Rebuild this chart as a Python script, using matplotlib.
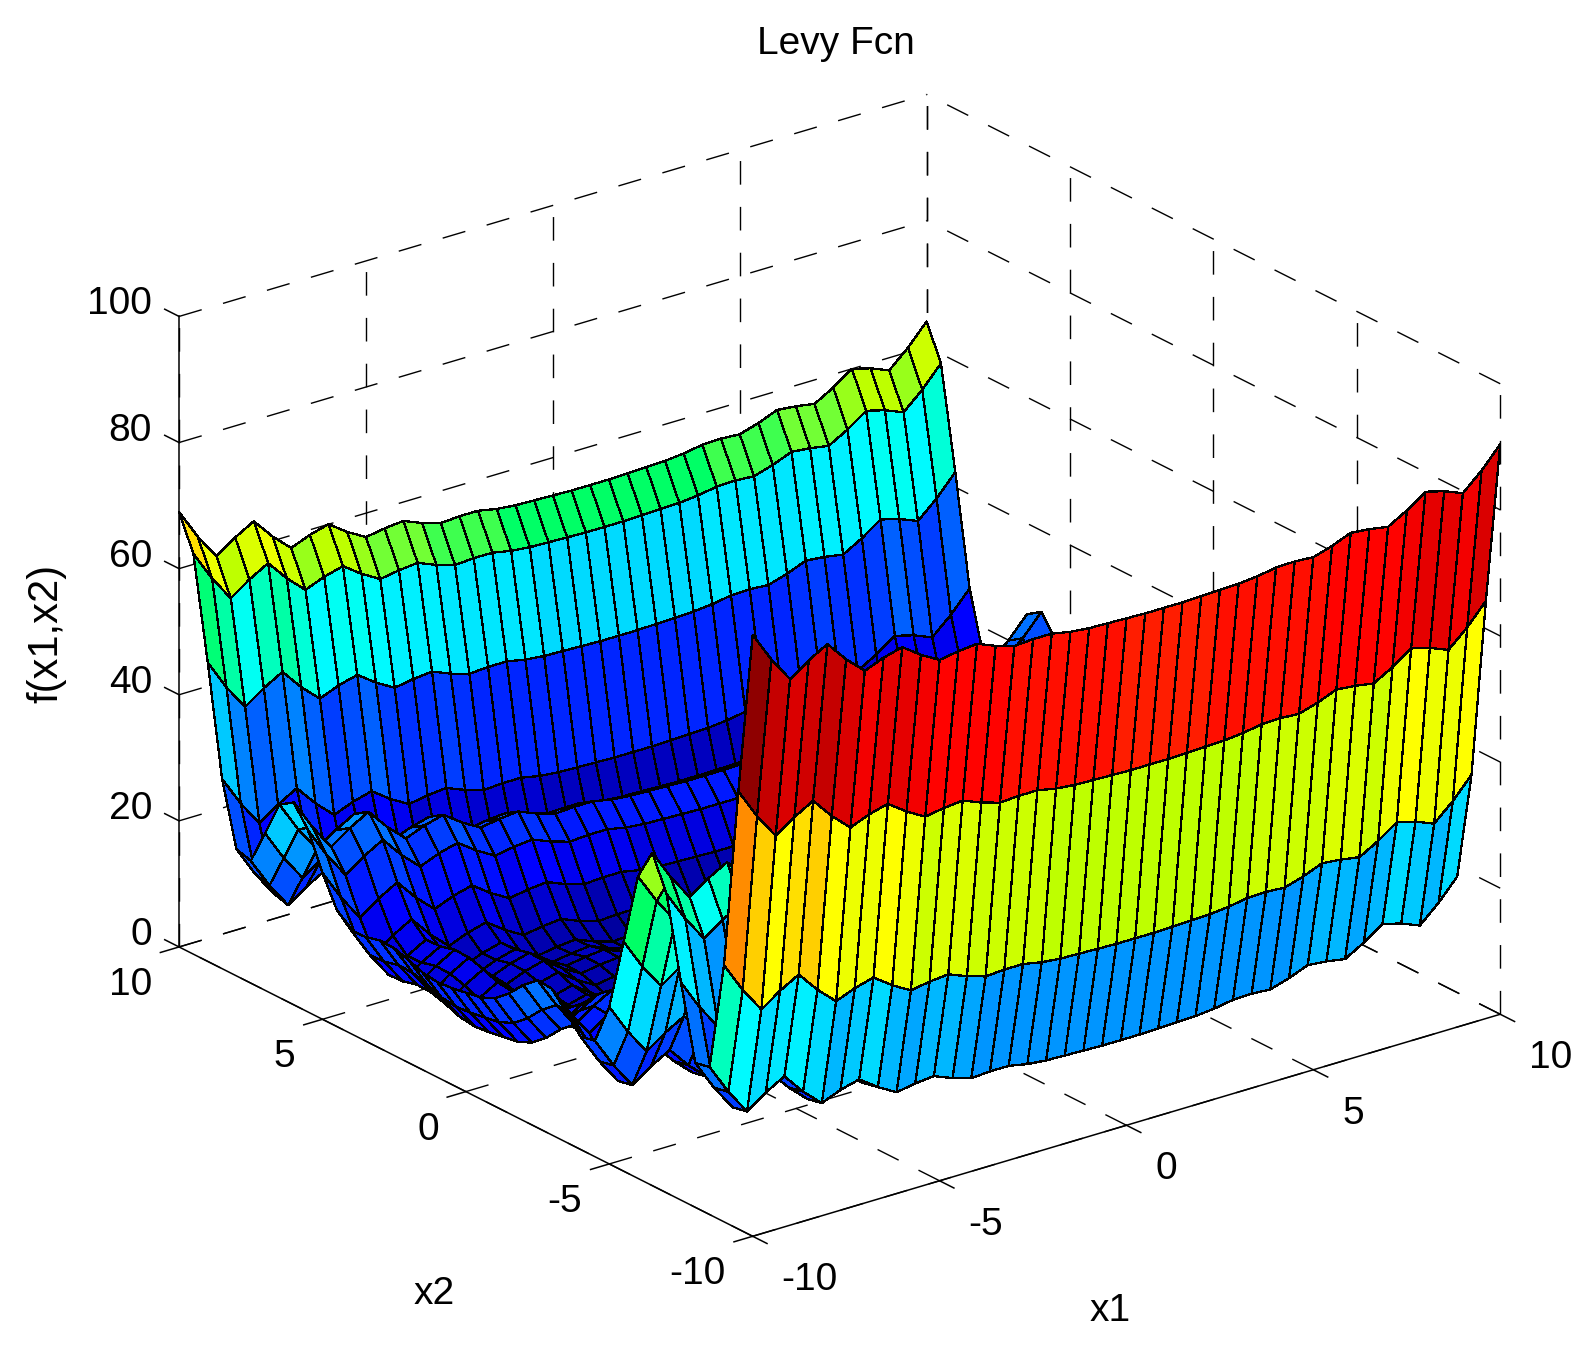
# -*- coding: utf-8 -*-

import numpy as np
import matplotlib
matplotlib.use('Agg')
import matplotlib.pyplot as plt
from matplotlib.colors import LinearSegmentedColormap
from mpl_toolkits.mplot3d import proj3d

plt.rcParams['font.family'] = ['Liberation Sans', 'DejaVu Sans']

# heights. rows go x2 = -10 ... 10, columns x1 = -10 ... 10, both every 0.5
# the rows are the same zigzag shifted up and down, so one profile per direction is enough
x2_profile = [80.3, 54.3, 25.6, 8.3, 7.8, 19.4, 32.3, 37.7, 32.8, 21.3, 9.8,
              3.3, 2.8, 5.5, 8.1, 8.3, 6.4, 3.9, 2.0, 1.0, 0.6, 0.2, 0.0,
              0.3, 1.2, 1.9, 2.0, 1.4, 1.3, 3.4, 8.1, 13.7, 17.0, 15.5, 9.8,
              4.3, 5.0, 15.0, 32.3, 48.4, 53.9]
x1_profile = [15.1, 10.3, 6.3, 8.4, 10.1, 6.8, 4.1, 5.3, 6.1, 4.0, 2.3,
              2.8, 3.1, 1.9, 1.0, 1.2, 1.2, 0.6, 0.3, 0.2, 0.1, 0.0, 0.0,
              0.0, 0.1, 0.2, 0.3, 0.6, 1.1, 1.2, 1.0, 1.9, 3.1, 2.8, 2.3,
              4.0, 6.1, 5.3, 4.1, 6.8, 10.1]
x1_ticks = [-10, -5, 0, 5, 10]
x2_ticks = [-10, -5, 0, 5, 10]
z_ticks = [0, 20, 40, 60, 80, 100]

# jet as the picture shows it, the reduced palette makes it more saturated than the real one
jet_stops = [(0.0, (0, 0, 143)), (0.11, (0, 0, 255)), (0.19, (0, 60, 255)), (0.28, (0, 160, 255)),
             (0.34, (0, 225, 255)), (0.39, (0, 255, 255)), (0.44, (0, 255, 170)), (0.51, (0, 255, 100)),
             (0.53, (90, 255, 70)), (0.571, (190, 255, 0)), (0.6, (215, 255, 0)), (0.635, (255, 255, 0)),
             (0.69, (255, 200, 0)), (0.73, (255, 140, 0)), (0.85, (255, 20, 0)), (0.875, (255, 0, 0)),
             (0.91, (225, 0, 0)), (0.95, (200, 0, 0)), (1.0, (143, 0, 0))]

W, H = 1595, 1347
L = 1454.0  # side of the square 3d axes, pixels
fig = plt.figure(figsize=(W / 100.0, H / 100.0), dpi=100, facecolor='white')
ax = fig.add_subplot(111, projection='3d', computed_zorder=False)
ax.set_position([93.0 / W, (H - 1412.0) / H, L / W, L / H])
ax.set_proj_type('ortho')
ax.view_init(elev=22.77, azim=-127.5)
ax.set_xlim(-10, 10, view_margin=0)
ax.set_ylim(-10, 10, view_margin=0)
ax.set_zlim(0, 100, view_margin=0)
ax.set_box_aspect((926, 926, 672))
ax.set_axis_off()


def tick_label(text, x, y, z, dx, dy, ha):
    xs, ys, _ = proj3d.proj_transform(x, y, z, ax.get_proj())
    ax.annotate(text, (xs, ys), xycoords='data', xytext=(dx, dy), textcoords='offset pixels',
                ha=ha, va='center', fontsize=28, annotation_clip=False)


# grid on the back planes
dash = dict(color='black', linewidth=1.0, linestyle=(0, (17, 16)), zorder=1)
for t in x2_ticks:
    ax.plot([-10, 10], [t, t], [0, 0], **dash)
    ax.plot([10, 10], [t, t], [0, 100], **dash)
for t in x1_ticks:
    ax.plot([t, t], [-10, 10], [0, 0], **dash)
    ax.plot([t, t], [10, 10], [0, 100], **dash)
for t in z_ticks:
    ax.plot([-10, 10], [10, 10], [t, t], **dash)
    ax.plot([10, 10], [-10, 10], [t, t], **dash)

# solid axes and ticks
solid = dict(color='black', linewidth=1.1, zorder=1)
ax.plot([-10, -10], [10, 10], [0, 100], **solid)
ax.plot([-10, -10], [-10, 10], [0, 0], **solid)
ax.plot([-10, 10], [-10, -10], [0, 0], **solid)
for t in x2_ticks:
    ax.plot([-10.5, -10], [t, t], [0, 0], **solid)
    tick_label(str(t), -10, t, 0, -27, -38, 'right')
for t in x1_ticks:
    ax.plot([t, t], [-10.5, -10], [0, 0], **solid)
    tick_label(str(t), t, -10, 0, 29, -44, 'left')
for t in z_ticks:
    ax.plot([-10, -10], [10, 10.5], [t, t], **solid)
    tick_label(str(t), -10, 10, t, -27, 12, 'right')

# the surface, flat colour of each face comes from its first corner
x1 = np.linspace(-10, 10, len(x1_profile))
x2 = np.linspace(-10, 10, len(x2_profile))
X1, X2 = np.meshgrid(x1, x2)
Z = np.add.outer(np.array(x2_profile), np.array(x1_profile))
jet = LinearSegmentedColormap.from_list('picture_jet', [(p, np.array(c) / 255.0) for p, c in jet_stops], N=64)
face = jet(Z / Z.max())
ax.plot_surface(X1, X2, Z, rstride=1, cstride=1, facecolors=face, edgecolor='black',
                linewidth=0.9, shade=False, antialiased=False, zorder=2)

fig.text(836.0 / W, 1 - 44.0 / H, 'Levy Fcn', ha='center', va='center', fontsize=28)
fig.text(434.0 / W, 1 - 1294.0 / H, 'x2', ha='center', va='center', fontsize=28)
fig.text(1110.0 / W, 1 - 1311.0 / H, 'x1', ha='center', va='center', fontsize=28)
fig.text(46.0 / W, 1 - 633.0 / H, 'f(x1,x2)', ha='center', va='center', fontsize=30, rotation=90)

fig.savefig('out.png', dpi=100)
